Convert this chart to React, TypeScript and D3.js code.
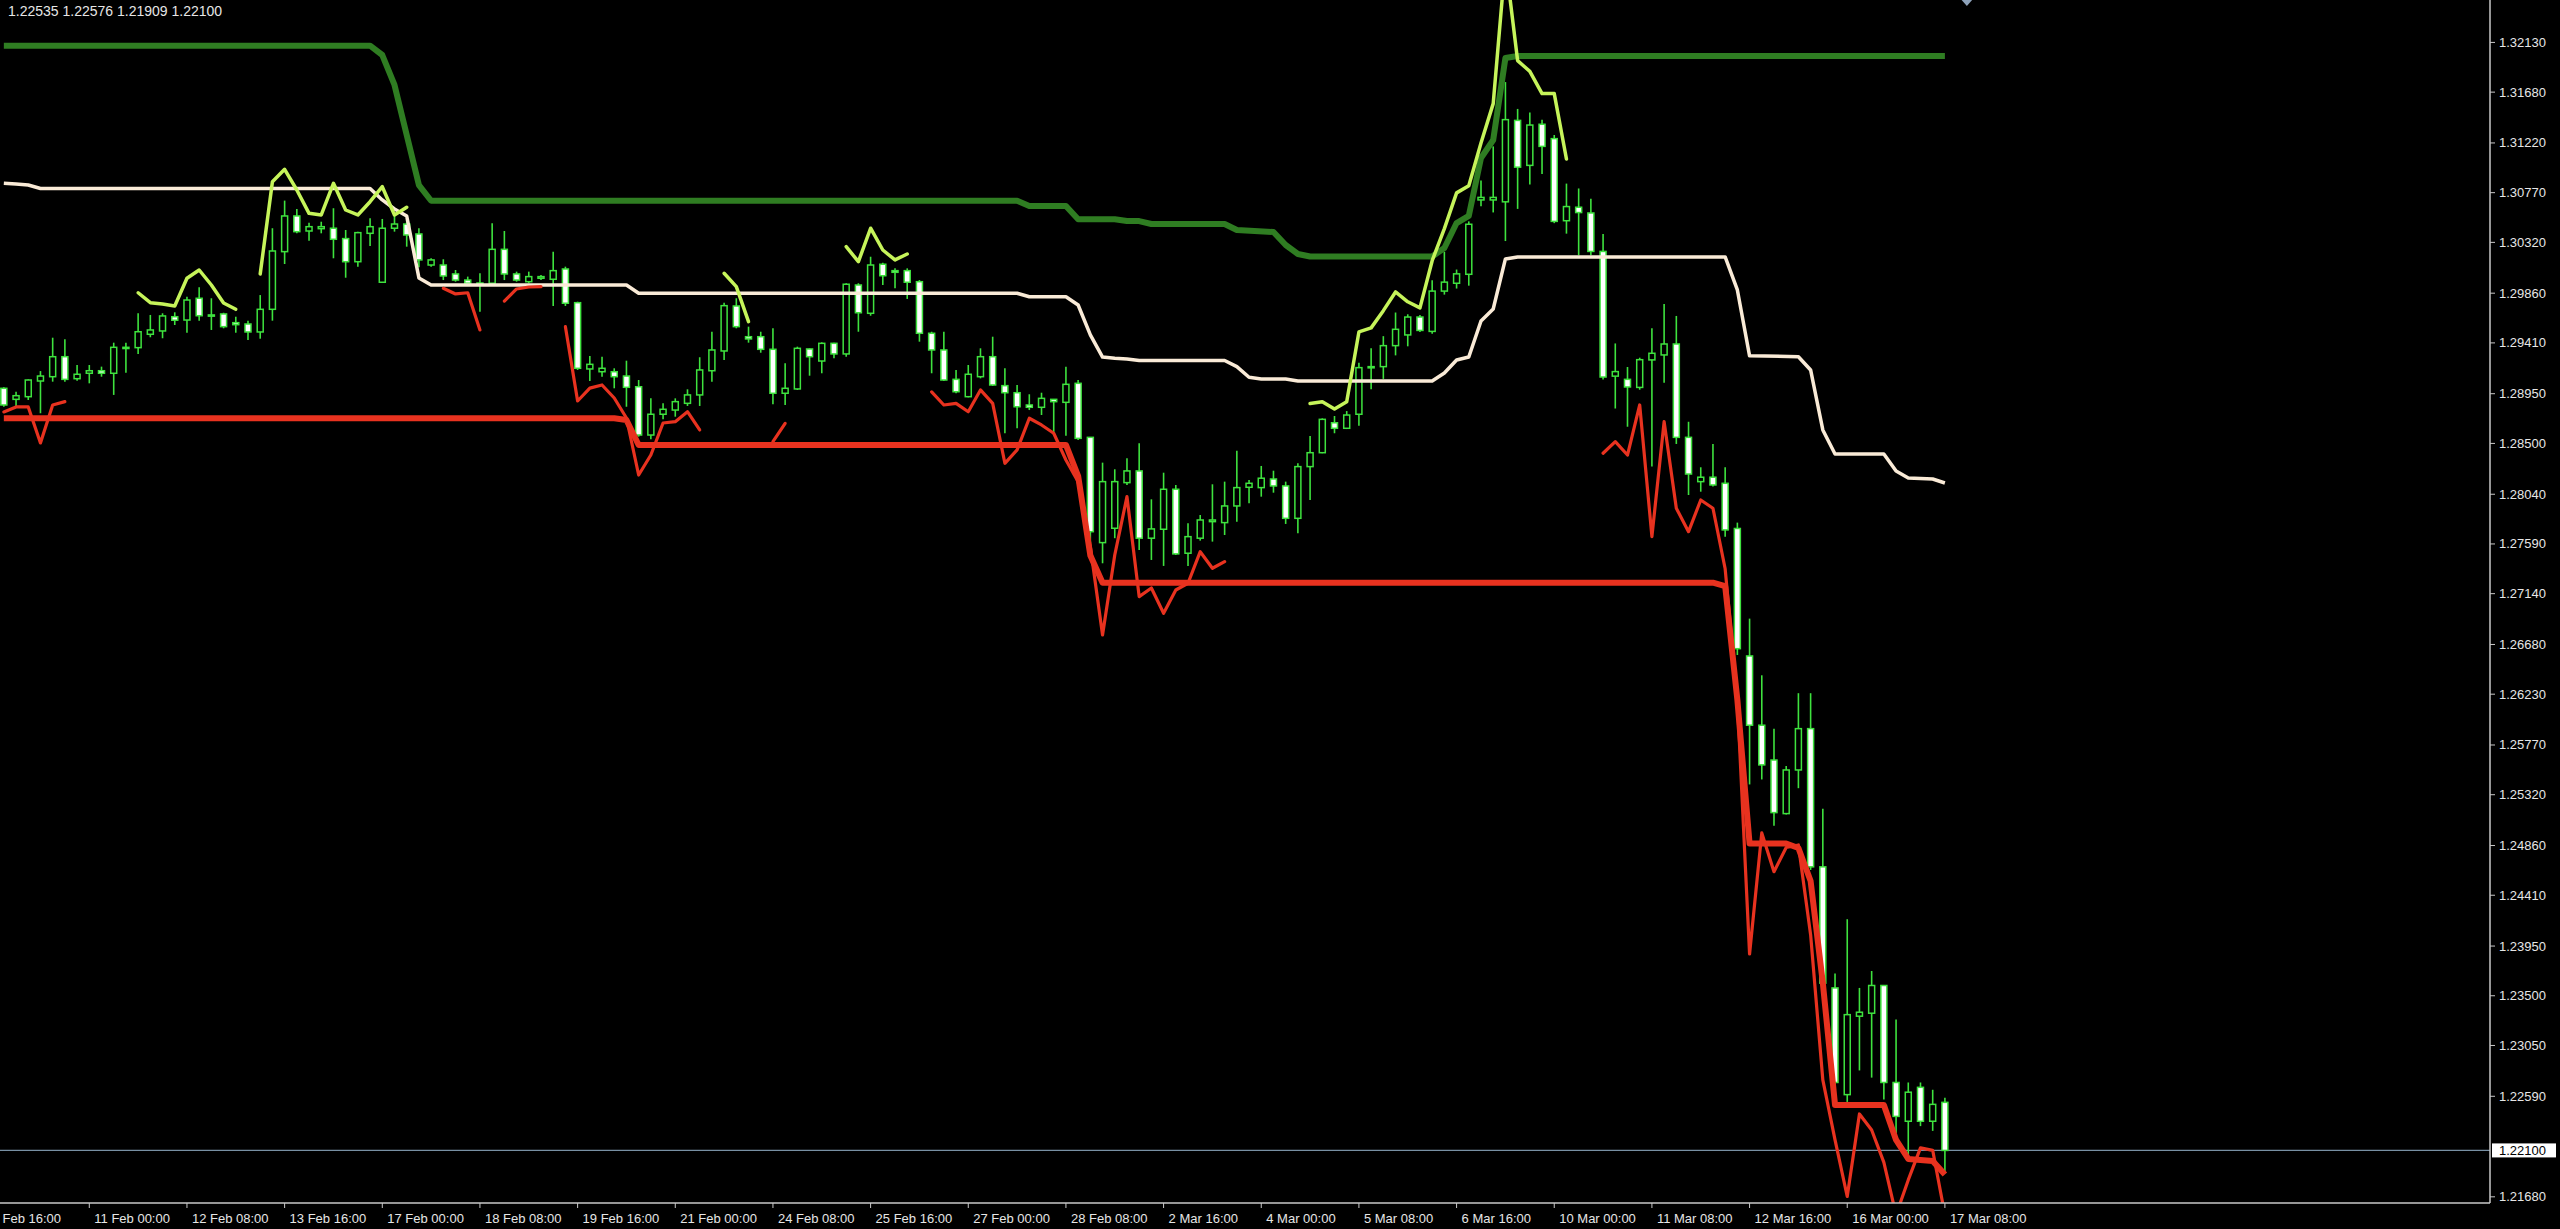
import React from 'react';
import * as d3 from 'd3';

const W = 2560;
const H = 1229;
const PLOT_R = 2490;
const PLOT_B = 1203;

// ---- H4 candles (bar index 0..159) ----
const opens = [1.28999,1.28899,1.28923,1.29065,1.29104,1.29285,1.29086,1.29135,1.29158,1.29135,1.29370,1.29367,1.29488,1.29518,1.29647,1.29617,1.29814,1.29663,1.29672,1.29593,1.29581,1.29509,1.29714,1.30236,1.30559,1.30423,1.30444,1.30448,1.30354,1.30145,1.30402,1.29959,1.30448,1.30486,1.30396,1.30115,1.30115,1.30034,1.29979,1.29950,1.29950,1.30257,1.30034,1.29964,1.29995,1.29986,1.30079,1.29774,1.29174,1.29149,1.29149,1.29110,1.29013,1.28576,1.28764,1.28802,1.28863,1.28939,1.29158,1.29337,1.29744,1.29466,1.29466,1.29352,1.28954,1.28993,1.29355,1.29246,1.29406,1.29310,1.29934,1.29678,1.30122,1.30064,1.30064,1.29964,1.29497,1.29346,1.29080,1.28923,1.29104,1.29285,1.29023,1.28959,1.28848,1.28827,1.28899,1.28872,1.29044,1.28555,1.27602,1.27732,1.28145,1.28251,1.27642,1.27723,1.28085,1.27506,1.27642,1.27792,1.27783,1.27934,1.28103,1.28100,1.28178,1.28115,1.27822,1.28290,1.28416,1.28687,1.28637,1.28764,1.29186,1.29195,1.29385,1.29482,1.29644,1.29514,1.29879,1.29950,1.30031,1.30704,1.30704,1.30687,1.31424,1.31017,1.31389,1.31259,1.30516,1.30638,1.30586,1.30238,1.29109,1.29080,1.29007,1.29256,1.29301,1.29400,1.28555,1.28154,1.28194,1.28139,1.27730,1.26576,1.25949,1.25634,1.25149,1.25544,1.25918,1.24667,1.23571,1.22605,1.23315,1.23342,1.23593,1.22715,1.22364,1.22671,1.22364,1.22535];
const highs = [1.29008,1.28968,1.29080,1.29155,1.29457,1.29443,1.29210,1.29210,1.29195,1.29412,1.29412,1.29678,1.29663,1.29678,1.29687,1.29828,1.29913,1.29814,1.29683,1.29647,1.29611,1.29843,1.30448,1.30698,1.30622,1.30498,1.30507,1.30629,1.30432,1.30417,1.30538,1.30532,1.30577,1.30523,1.30448,1.30176,1.30167,1.30070,1.30010,1.30040,1.30493,1.30423,1.30055,1.30055,1.30025,1.30236,1.30100,1.29783,1.29292,1.29285,1.29180,1.29249,1.29074,1.28908,1.28863,1.28908,1.28990,1.29280,1.29511,1.29774,1.29814,1.29557,1.29511,1.29542,1.29225,1.29376,1.29361,1.29415,1.29412,1.29950,1.29950,1.30190,1.30136,1.30085,1.30085,1.29979,1.29511,1.29511,1.29165,1.29210,1.29361,1.29466,1.29180,1.29029,1.28945,1.28959,1.28899,1.29195,1.29074,1.28558,1.28326,1.28266,1.28366,1.28501,1.27994,1.28235,1.28124,1.27777,1.27852,1.28130,1.28154,1.28434,1.28169,1.28296,1.28253,1.28154,1.28320,1.28567,1.28727,1.28748,1.28793,1.29231,1.29361,1.29471,1.29685,1.29669,1.29663,1.29976,1.30235,1.30074,1.30510,1.30881,1.31189,1.31771,1.31528,1.31496,1.31431,1.31292,1.30852,1.30808,1.30714,1.30396,1.29405,1.29192,1.29276,1.29542,1.29762,1.29654,1.28696,1.28284,1.28495,1.28284,1.27783,1.26914,1.26401,1.25918,1.25581,1.26239,1.26239,1.25193,1.23702,1.24193,1.23571,1.23724,1.23598,1.23285,1.22715,1.22715,1.22649,1.22576];
const lows = [1.28832,1.28832,1.28893,1.28773,1.29059,1.29059,1.29068,1.29044,1.29104,1.28939,1.29140,1.29310,1.29461,1.29452,1.29572,1.29502,1.29611,1.29527,1.29542,1.29502,1.29436,1.29448,1.29611,1.30124,1.30402,1.30335,1.30402,1.30176,1.30000,1.30100,1.30287,1.29959,1.30417,1.30281,1.30094,1.30100,1.29979,1.29964,1.29934,1.29693,1.29950,1.29979,1.29964,1.29950,1.29979,1.29744,1.29744,1.29165,1.29065,1.29104,1.28999,1.28832,1.28561,1.28537,1.28718,1.28742,1.28839,1.28839,1.29059,1.29256,1.29542,1.29412,1.29321,1.28854,1.28848,1.28984,1.29113,1.29135,1.29271,1.29285,1.29511,1.29656,1.29934,1.29904,1.29808,1.29421,1.29135,1.29065,1.28954,1.28917,1.29089,1.29020,1.28592,1.28637,1.28802,1.28757,1.28576,1.28570,1.28531,1.27599,1.27415,1.27642,1.28124,1.27536,1.27445,1.27391,1.27490,1.27391,1.27620,1.27611,1.27671,1.27792,1.27958,1.28018,1.28054,1.27771,1.27687,1.27988,1.28411,1.28592,1.28630,1.28660,1.28990,1.29084,1.29297,1.29379,1.29508,1.29492,1.29847,1.29902,1.29928,1.30646,1.30591,1.30332,1.30623,1.30843,1.30940,1.30494,1.30399,1.30204,1.30204,1.29078,1.28816,1.28651,1.28986,1.28290,1.29050,1.28495,1.28033,1.28063,1.28109,1.27656,1.26585,1.25413,1.25458,1.25039,1.25141,1.25379,1.24639,1.23553,1.22684,1.22539,1.22824,1.22759,1.22562,1.22255,1.22057,1.22320,1.22277,1.21909];
const closes = [1.28848,1.28932,1.29074,1.29110,1.29285,1.29080,1.29126,1.29158,1.29135,1.29370,1.29367,1.29511,1.29527,1.29654,1.29615,1.29798,1.29656,1.29660,1.29557,1.29575,1.29509,1.29714,1.30242,1.30559,1.30417,1.30462,1.30462,1.30348,1.30145,1.30408,1.30462,1.30448,1.30486,1.30387,1.30161,1.30161,1.30016,1.29979,1.29950,1.29952,1.30257,1.30034,1.29979,1.30010,1.30010,1.30064,1.29769,1.29180,1.29216,1.29180,1.29104,1.29008,1.28576,1.28764,1.28809,1.28878,1.28939,1.29165,1.29346,1.29747,1.29557,1.29446,1.29352,1.28954,1.28999,1.29361,1.29285,1.29406,1.29310,1.29941,1.29683,1.30115,1.30018,1.30049,1.29959,1.29497,1.29346,1.29074,1.28968,1.29126,1.29285,1.29029,1.28959,1.28832,1.28827,1.28908,1.28878,1.29035,1.28546,1.27701,1.28154,1.28154,1.28251,1.27642,1.27726,1.28085,1.27500,1.27656,1.27807,1.27807,1.27934,1.28100,1.28139,1.28185,1.28115,1.27822,1.28290,1.28416,1.28718,1.28637,1.28757,1.29186,1.29195,1.29385,1.29533,1.29644,1.29523,1.29879,1.29960,1.30035,1.30484,1.30727,1.30727,1.31431,1.31001,1.31382,1.31189,1.30510,1.30644,1.30590,1.30238,1.29101,1.29150,1.29011,1.29258,1.29316,1.29400,1.28555,1.28223,1.28194,1.28124,1.27717,1.26642,1.25949,1.25590,1.25158,1.25544,1.25918,1.24667,1.23614,1.22715,1.23329,1.23351,1.23593,1.22715,1.22408,1.22627,1.22364,1.22517,1.22100];

// ---- indicator lines: [barIndex, price] ----
const upperBand: [number, number][] = [[0,1.32100],[30,1.32100],[31,1.32016],[32,1.31745],[33,1.31292],[34,1.30839],[35,1.30697],[83,1.30697],[84,1.30649],[87,1.30649],[88,1.30529],[91,1.30529],[92,1.30513],[93,1.30513],[94,1.30486],[100,1.30486],[101,1.30432],[104,1.30414],[105,1.30296],[106,1.30215],[107,1.30192],[117,1.30192],[118,1.30269],[119,1.30495],[120,1.30559],[121,1.31084],[122,1.31247],[123,1.31989],[124,1.32007],[159,1.32007]];
const middleBand: [number, number][] = [[0,1.30855],[1,1.30848],[2,1.30839],[3,1.30808],[30,1.30808],[31,1.30704],[32,1.30622],[33,1.30559],[34,1.29998],[35,1.29934],[51,1.29934],[52,1.29859],[83,1.29859],[84,1.29828],[87,1.29828],[88,1.29753],[89,1.29482],[90,1.29282],[91,1.29271],[92,1.29264],[93,1.29251],[100,1.29251],[101,1.29195],[102,1.29099],[103,1.29083],[105,1.29083],[106,1.29065],[117,1.29065],[118,1.29138],[119,1.29255],[120,1.29282],[121,1.29608],[122,1.29717],[123,1.30170],[124,1.30188],[141,1.30188],[142,1.29889],[143,1.29293],[147,1.29285],[148,1.29165],[149,1.28622],[150,1.28404],[154,1.28404],[155,1.28250],[156,1.28187],[157,1.28183],[158,1.28178],[159,1.28142]];
const lowerBand: [number, number][] = [[0,1.28728],[50,1.28728],[51,1.28712],[52,1.28486],[87,1.28486],[88,1.28205],[89,1.27485],[90,1.27239],[140,1.27239],[141,1.27209],[142,1.26178],[143,1.24878],[146,1.24878],[147,1.24838],[148,1.24539],[149,1.23616],[150,1.22512],[154,1.22512],[155,1.22195],[156,1.22023],[157,1.22014],[158,1.22005],[159,1.21881]];
const upperEnvelope: [number, number][] = [[11,1.29864],[12,1.29774],[13,1.29762],[14,1.29744],[15,1.29995],[16,1.30070],[17,1.29934],[18,1.29771],[19,1.29714],[21,1.30034],[22,1.30869],[23,1.30981],[24,1.30794],[25,1.30583],[26,1.30568],[27,1.30855],[28,1.30613],[29,1.30568],[30,1.30688],[31,1.30824],[32,1.30568],[33,1.30638],[59,1.30040],[60,1.29919],[61,1.29602],[69,1.30281],[70,1.30145],[71,1.30448],[72,1.30251],[73,1.30161],[74,1.30215],[107,1.28862],[108,1.28877],[109,1.28812],[110,1.28877],[111,1.29509],[112,1.29546],[113,1.29702],[114,1.29871],[115,1.29782],[116,1.29727],[117,1.30154],[118,1.30445],[119,1.30768],[120,1.30833],[121,1.31220],[122,1.31576],[123,1.32867],[124,1.31965],[125,1.31868],[126,1.31667],[127,1.31667],[128,1.31075]];
const lowerEnvelope: [number, number][] = [[0,1.28785],[1,1.28830],[2,1.28830],[3,1.28504],[4,1.28848],[5,1.28878],[36,1.29904],[37,1.29853],[38,1.29864],[39,1.29527],[41,1.29789],[42,1.29898],[43,1.29916],[44,1.29919],[46,1.29557],[47,1.28884],[48,1.29001],[49,1.29029],[50,1.28911],[51,1.28730],[52,1.28214],[53,1.28395],[54,1.28685],[55,1.28697],[56,1.28787],[57,1.28622],[63,1.28516],[64,1.28682],[76,1.28967],[77,1.28848],[78,1.28863],[79,1.28787],[80,1.28984],[81,1.28863],[82,1.28320],[83,1.28441],[84,1.28728],[85,1.28667],[86,1.28592],[87,1.28350],[88,1.28154],[89,1.27565],[90,1.26766],[91,1.27490],[92,1.28018],[93,1.27113],[94,1.27191],[95,1.26963],[96,1.27173],[97,1.27234],[98,1.27520],[99,1.27370],[100,1.27430],[131,1.28411],[132,1.28516],[133,1.28395],[134,1.28848],[135,1.27656],[136,1.28697],[137,1.27913],[138,1.27701],[139,1.27988],[140,1.27913],[141,1.27365],[142,1.26178],[143,1.23878],[144,1.24974],[145,1.24623],[146,1.24842],[147,1.24865],[148,1.24053],[149,1.22738],[150,1.22195],[151,1.21683],[152,1.22430],[153,1.22285],[154,1.21992],[155,1.21516],[156,1.21833],[157,1.22123],[158,1.22101],[159,1.21516]];

// ---- axes ----
const priceTicks = [1.32130,1.31680,1.31220,1.30770,1.30320,1.29860,1.29410,1.28950,1.28500,1.28040,1.27590,1.27140,1.26680,1.26230,1.25770,1.25320,1.24860,1.24410,1.23950,1.23500,1.23050,1.22590,1.21680];
const timeTickBars = [-1,7,15,23,31,39,47,55,63,71,79,87,95,103,111,119,127,135,143,151,159];
const timeTickLabels = ["7 Feb 16:00","11 Feb 00:00","12 Feb 08:00","13 Feb 16:00","17 Feb 00:00","18 Feb 08:00","19 Feb 16:00","21 Feb 00:00","24 Feb 08:00","25 Feb 16:00","27 Feb 00:00","28 Feb 08:00","2 Mar 16:00","4 Mar 00:00","5 Mar 08:00","6 Mar 16:00","10 Mar 00:00","11 Mar 08:00","12 Mar 16:00","16 Mar 00:00","17 Mar 08:00"];
const bidPrice = 1.22100;
const headerText = "1.22535 1.22576 1.21909 1.22100";

const FONT = "'Liberation Sans', Arial, sans-serif";
const CANDLE = '#3ee23e';

function splitSegments(pts: [number, number][]) {
  const segs: [number, number][][] = [];
  let cur: [number, number][] = [];
  pts.forEach((p, k) => {
    if (k > 0 && p[0] - pts[k - 1][0] > 1) {
      segs.push(cur);
      cur = [];
    }
    cur.push(p);
  });
  if (cur.length) segs.push(cur);
  return segs;
}

export default function App() {
  const x = d3.scaleLinear().domain([0, 159]).range([3.84, 1944.9]);
  const y = d3.scaleLinear().domain([1.21624, 1.32514]).range([PLOT_B, 0]);
  const line = d3.line<[number, number]>().x(d => x(d[0])).y(d => y(d[1]));

  const bodyW = 6;

  return (
    <svg width={W} height={H} style={{ position: 'fixed', left: 0, top: 0, display: 'block' }}>
      <rect x={0} y={0} width={W} height={H} fill="#000" />
      <defs>
        <clipPath id="plotClip">
          <rect x={0} y={0} width={PLOT_R} height={PLOT_B} />
        </clipPath>
        <clipPath id="axisClip">
          <rect x={0} y={PLOT_B} width={PLOT_R} height={H - PLOT_B} />
        </clipPath>
      </defs>
      <g clipPath="url(#plotClip)">
        {/* bid line */}
        <line x1={0} x2={PLOT_R} y1={y(bidPrice)} y2={y(bidPrice)} stroke="#7890a4" strokeWidth={1.2} />
        {/* candles */}
        {opens.map((o, i) => {
          const c = closes[i];
          const cx = x(i);
          const bull = c >= o;
          const yTop = y(Math.max(o, c));
          const yBot = y(Math.min(o, c));
          const h = Math.max(yBot - yTop, 1.2);
          return (
            <g key={i}>
              <line x1={cx} x2={cx} y1={y(highs[i])} y2={y(lows[i])} stroke={CANDLE} strokeWidth={1.6} />
              <rect x={cx - bodyW / 2} y={yTop} width={bodyW} height={h}
                fill={bull ? '#000' : '#ffffff'} stroke={CANDLE} strokeWidth={1.5} />
            </g>
          );
        })}
        {/* indicator lines */}
        <path d={line(upperBand) || ''} fill="none" stroke="#2f7d22" strokeWidth={6} strokeLinejoin="round" />
        <path d={line(middleBand) || ''} fill="none" stroke="#faebd7" strokeWidth={3.5} strokeLinejoin="round" />
        <path d={line(lowerBand) || ''} fill="none" stroke="#e8321f" strokeWidth={6} strokeLinejoin="round" />
        {splitSegments(upperEnvelope).map((s, k) => (
          <path key={'u' + k} d={line(s) || ''} fill="none" stroke="#c6f45a" strokeWidth={3.5} strokeLinejoin="round" strokeLinecap="round" />
        ))}
        {splitSegments(lowerEnvelope).map((s, k) => (
          <path key={'l' + k} d={line(s) || ''} fill="none" stroke="#e8321f" strokeWidth={3.2} strokeLinejoin="round" strokeLinecap="round" />
        ))}
      </g>

      {/* top marker */}
      <polygon points={`${x(160.8) - 7},-2 ${x(160.8) + 7},-2 ${x(160.8)},6`} fill="#8ea2ba" />

      {/* header */}
      <text x={8} y={11} dominantBaseline="central" fontFamily={FONT} fontSize={14} fill="#e6e6e6">{headerText}</text>

      {/* axes */}
      <line x1={PLOT_R} x2={PLOT_R} y1={0} y2={PLOT_B} stroke="#c8c8c8" strokeWidth={1.5} />
      <line x1={0} x2={PLOT_R} y1={PLOT_B} y2={PLOT_B} stroke="#c8c8c8" strokeWidth={1.5} />
      {priceTicks.map((p, k) => (
        <g key={'p' + k}>
          <line x1={PLOT_R} x2={PLOT_R + 5} y1={y(p)} y2={y(p)} stroke="#c8c8c8" strokeWidth={1} />
          <text x={PLOT_R + 9} y={y(p)} dominantBaseline="central" fontFamily={FONT} fontSize={13} fill="#e6e6e6">{p.toFixed(5)}</text>
        </g>
      ))}
      <rect x={PLOT_R + 2} y={y(bidPrice) - 7} width={64} height={14} fill="#ffffff" />
      <text x={PLOT_R + 9} y={y(bidPrice)} dominantBaseline="central" fontFamily={FONT} fontSize={13} fill="#000">{bidPrice.toFixed(5)}</text>
      <g clipPath="url(#axisClip)">
        {timeTickBars.map((b, k) => (
          <g key={'t' + k}>
            <line x1={x(b)} x2={x(b)} y1={PLOT_B} y2={PLOT_B + 5} stroke="#c8c8c8" strokeWidth={1} />
            <text x={k === 0 ? x(b) : x(b) + 5} y={PLOT_B + 15} dominantBaseline="central" fontFamily={FONT} fontSize={13} fill="#e6e6e6">{timeTickLabels[k]}</text>
          </g>
        ))}
      </g>
    </svg>
  );
}
